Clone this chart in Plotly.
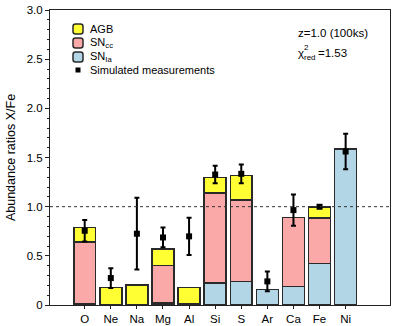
import plotly.graph_objects as go

elements = ["O", "Ne", "Na", "Mg", "Al", "Si", "S", "Ar", "Ca", "Fe", "Ni"]
sn_ia = [0.013, 0.0, 0.0, 0.02, 0.017, 0.223, 0.24, 0.156, 0.19, 0.423, 1.585]
sn_cc = [0.627, 0.0, 0.0, 0.383, 0.0, 0.915, 0.827, 0.0, 0.701, 0.464, 0.0]
agb = [0.149, 0.176, 0.203, 0.166, 0.162, 0.159, 0.25, 0.0, 0.0, 0.11, 0.0]
meas = [0.755, 0.274, 0.725, 0.687, 0.698, 1.327, 1.334, 0.24, 0.965, 0.999, 1.561]
err = [0.11, 0.10, 0.365, 0.10, 0.19, 0.09, 0.095, 0.10, 0.16, 0.012, 0.18]

legend_labels = ["AGB", "SN<sub>cc</sub>", "SN<sub>Ia</sub>", "Simulated measurements"]
col_agb, col_cc, col_ia = "#ffff33", "#fba8a8", "#b3d6e6"

x = list(range(len(elements)))
edge = dict(color="#2a2a2a", width=1.5)
W = 0.84

fig = go.Figure()
fig.add_trace(go.Bar(x=x, y=sn_ia, name=legend_labels[2], width=W,
                     marker=dict(color=col_ia, line=edge)))
fig.add_trace(go.Bar(x=x, y=sn_cc, name=legend_labels[1], width=W,
                     marker=dict(color=col_cc, line=edge)))
fig.add_trace(go.Bar(x=x, y=agb, name=legend_labels[0], width=W,
                     marker=dict(color=col_agb, line=edge)))
fig.add_trace(go.Scatter(x=x, y=meas, mode="markers", name=legend_labels[3],
                         marker=dict(symbol="square", size=6, color="black"),
                         error_y=dict(type="data", array=err, color="black",
                                      thickness=2, width=2.5)))

fig.add_shape(type="line", xref="paper", yref="y", x0=0, x1=1, y0=1.0, y1=1.0,
              line=dict(color="#333333", width=1, dash="dot"))

# manual compact legend (plot area: 340 x 295 px)
PW, PH = 340.0, 295.0
def px(xp):
    return (xp - 50) / PW
def py(yp):
    return (305 - yp) / PH

def rounded(cx, cy, w, h, r):
    x0, x1 = cx - w / 2, cx + w / 2
    y0, y1 = cy - h / 2, cy + h / 2
    rx, ry = r / PW, r / PH
    return (f"M{x0+rx},{y0} L{x1-rx},{y0} Q{x1},{y0} {x1},{y0+ry} "
            f"L{x1},{y1-ry} Q{x1},{y1} {x1-rx},{y1} L{x0+rx},{y1} "
            f"Q{x0},{y1} {x0},{y1-ry} L{x0},{y0+ry} Q{x0},{y0} {x0+rx},{y0} Z")

sw_x = px(78)
txt_x = px(88)
rows_y = [py(29), py(43), py(57), py(70)]
for col, yy in zip([col_agb, col_cc, col_ia], rows_y[:3]):
    fig.add_shape(type="path", xref="paper", yref="paper",
                  path=rounded(sw_x, yy, 10 / PW, 10 / PH, 2.5),
                  fillcolor=col, line=dict(color="#2a2a2a", width=1.5))
fig.add_shape(type="rect", xref="paper", yref="paper",
              x0=sw_x - 2.5 / PW, x1=sw_x + 2.5 / PW,
              y0=rows_y[3] - 2.5 / PH, y1=rows_y[3] + 2.5 / PH,
              fillcolor="black", line=dict(width=0))
for lab, yy in zip(legend_labels, rows_y):
    fig.add_annotation(xref="paper", yref="paper", x=txt_x, y=yy, xanchor="left",
                       yanchor="middle", showarrow=False, text=lab,
                       font=dict(size=11, color="black"))

# info text
def note(text, xp, yp, size):
    fig.add_annotation(xref="paper", yref="paper", x=px(xp), y=py(yp),
                       xanchor="left", yanchor="middle", showarrow=False,
                       text=text, font=dict(size=size, color="black"))

note("z=1.0 (100ks)", 296, 33, 11.5)
note("χ", 296, 53, 11.5)
note("2", 302, 47.5, 8)
note("red", 302, 57.5, 8)
note("=1.53", 316, 53, 11.5)

fig.update_layout(
    width=407, height=326,
    barmode="stack",
    plot_bgcolor="white", paper_bgcolor="white",
    margin=dict(l=50, r=17, t=10, b=21, autoexpand=False),
    font=dict(family="Liberation Sans, Arial, sans-serif", size=11, color="black"),
    showlegend=False,
    xaxis=dict(range=[-1.33, 11.7], tickvals=x, ticktext=elements,
               showline=True, linecolor="#222", linewidth=1, mirror=True,
               ticks="outside", ticklen=3, tickcolor="#222", showgrid=False,
               zeroline=False, tickfont=dict(size=11.5)),
    yaxis=dict(range=[0, 3.0], tickvals=[0, 0.5, 1.0, 1.5, 2.0, 2.5, 3.0],
               ticktext=["0", "0.5", "1.0", "1.5", "2.0", "2.5", "3.0"],
               showline=True, linecolor="#222", linewidth=1, mirror=True,
               ticks="outside", ticklen=4, tickcolor="#222", showgrid=False,
               zeroline=False, tickfont=dict(size=11.5),
               minor=dict(dtick=0.1, ticks="outside", ticklen=2, tickcolor="#222"),
               title=dict(text="Abundance ratios X/Fe", font=dict(size=12.5), standoff=8)),
)

fig.write_html("out.html", config={"displayModeBar": False},
               post_script="document.body.style.margin='0';")
